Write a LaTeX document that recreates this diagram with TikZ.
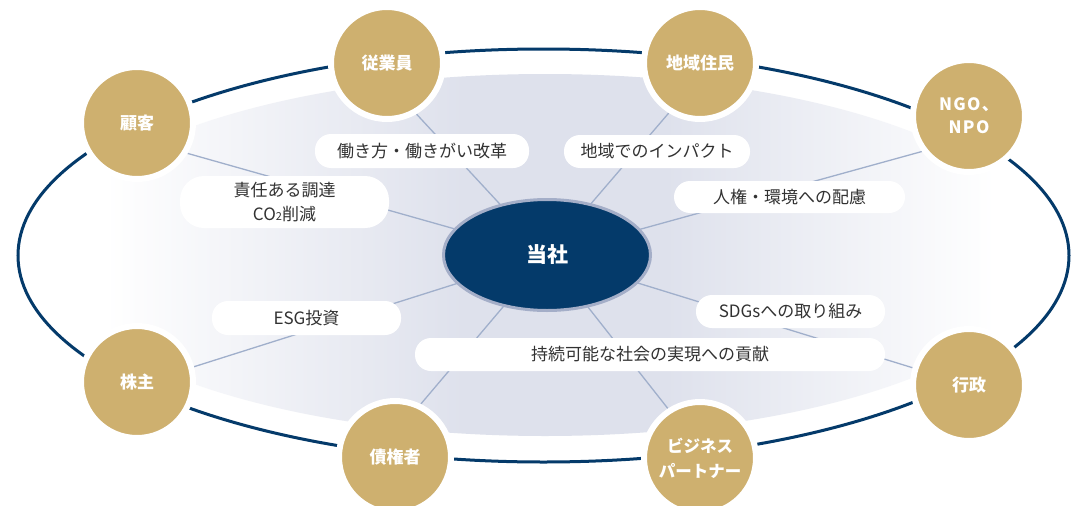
\documentclass[tikz,border=0pt]{standalone}
\usepackage{fontspec}
\setmainfont{Noto Sans CJK JP}
\usetikzlibrary{shapes.geometric}
\definecolor{navy}{RGB}{4,58,106}
\definecolor{gold}{RGB}{206,176,111}
\definecolor{lav}{RGB}{222,225,236}
\definecolor{ringc}{RGB}{164,174,200}
\definecolor{conn}{RGB}{160,175,203}
\definecolor{txt}{RGB}{50,50,50}
\pgfdeclarehorizontalshading{innershade}{100bp}{color(0bp)=(white); color(28bp)=(white); color(46bp)=(lav); color(56bp)=(lav); color(72.5bp)=(white); color(100bp)=(white)}
\pgfdeclarelayer{bg}
\pgfsetlayers{bg,main}
\begin{document}
\begin{tikzpicture}[x=1pt,y=-1pt,
  stake/.style={circle, fill=gold, draw=white, line width=6pt, minimum size=112pt, inner sep=0pt, text=white, font=\fontsize{17}{24}\selectfont\bfseries, align=center},
  lab/.style={rectangle, fill=white, inner sep=0pt, text=txt, font=\fontsize{17}{24.5}\selectfont, align=center, rounded corners=16pt},
  conline/.style={draw=conn, line width=1.3pt}]
\useasboundingbox (0,0) rectangle (1071,506);

% company
\node[ellipse, fill=navy, draw=ringc, line width=3pt, minimum width=207pt, minimum height=111pt, inner sep=0pt, text=white, font=\fontsize{21}{24}\selectfont\bfseries] (tosha) at (547,255) {当社};

% stakeholders
\node[stake] (cust) at (137,123) {顧客};
\node[stake] (emp) at (387,63) {従業員};
\node[stake] (res) at (700,63) {地域住民};
\node[stake, font=\fontsize{17}{23}\selectfont\bfseries\addfontfeatures{LetterSpace=8}] (ngo) at (969,116) {NGO、\\NPO};
\node[stake] (sh) at (137,382) {株主};
\node[stake] (cred) at (395,457) {債権者};
\node[stake, font=\fontsize{16.5}{25}\selectfont\bfseries] (bp) at (700,458) {ビジネス\\パートナー};
\node[stake] (gov) at (969,385) {行政};

% labels
\node[lab, minimum width=214pt, minimum height=34pt] (lwork) at (422,151) {働き方・働きがい改革};
\node[lab, minimum width=209pt, minimum height=52pt, rounded corners=24pt] (lproc) at (284.5,202) {責任ある調達\\CO{\fontsize{11}{11}\selectfont 2}削減};
\node[lab, minimum width=186pt, minimum height=33pt] (llocal) at (657,151.5) {地域でのインパクト};
\node[lab, minimum width=231pt, minimum height=32pt] (lhuman) at (789.5,197) {人権・環境への配慮};
\node[lab, minimum width=189pt, minimum height=34pt] (lesg) at (306.5,318) {ESG投資};
\node[lab, minimum width=189pt, minimum height=33pt] (lsdgs) at (790.5,311.5) {SDGsへの取り組み};
\node[lab, minimum width=470pt, minimum height=33pt] (lsus) at (650,354.5) {持続可能な社会の実現への貢献};

\begin{pgfonlayer}{bg}
  \fill[white] (0,0) rectangle (1071,506);
  \shade[shading=innershade] (545,255) ellipse [x radius=500, y radius=181];
  \draw[navy, line width=3pt] (543.5,255.5) ellipse [x radius=525.5, y radius=206.5];
  \draw[conline] (tosha.center) -- (cust.-31);
  \draw[conline] (tosha.center) -- (emp.-60);
  \draw[conline] (tosha.center) -- (res.-122);
  \draw[conline] (tosha.center) -- (ngo.217);
  \draw[conline] (tosha.center) -- (sh.15);
  \draw[conline] (tosha.center) -- (cred.64);
  \draw[conline] (tosha.center) -- (bp.123);
  \draw[conline] (tosha.center) -- (gov.163);
\end{pgfonlayer}
\end{tikzpicture}
\end{document}
